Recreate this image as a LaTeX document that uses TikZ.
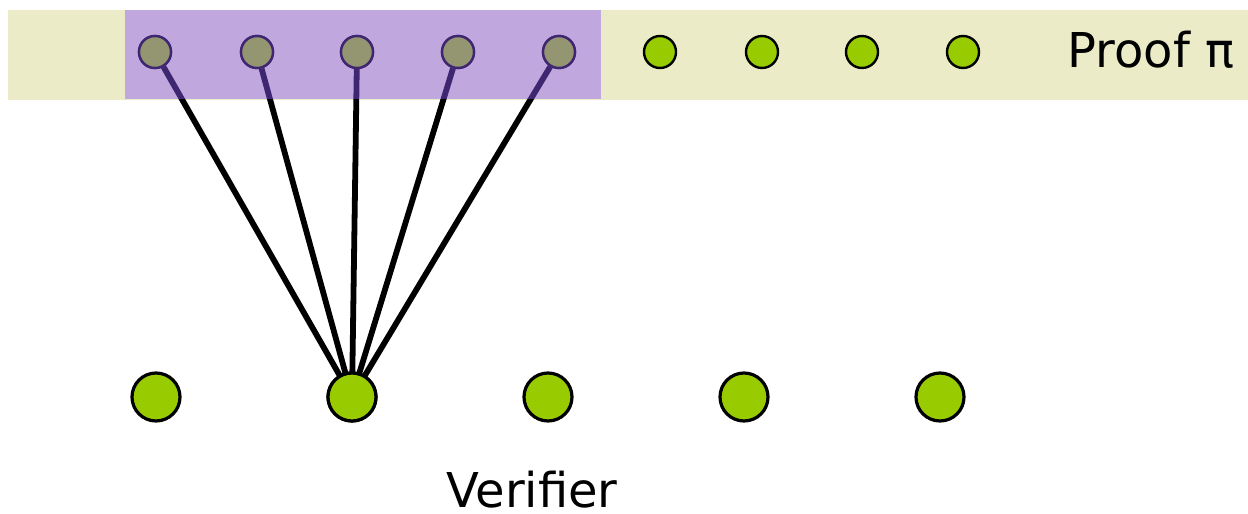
\documentclass[tikz,border=0pt]{standalone}
\usepackage{fontspec}
\setmainfont{DejaVu Sans}
\definecolor{beige}{RGB}{235,235,200}
\definecolor{leaf}{RGB}{153,204,0}
\definecolor{lilac}{RGB}{140,85,250}
\begin{document}
\begin{tikzpicture}[x=0.5pt,y=-0.5pt,
  small/.style={circle,draw=black,line width=1.2pt,fill=leaf,minimum size=32*0.5pt,inner sep=0pt},
  big/.style={circle,draw=black,line width=1.6pt,fill=leaf,minimum size=48*0.5pt,inner sep=0pt},
  wire/.style={line width=2.9pt,black},
  label/.style={font=\fontsize{24}{28}\selectfont,anchor=base,inner sep=0pt}]
\useasboundingbox (0,0) rectangle (1248,514);
\fill[beige] (8,10) rectangle (1248,100);
% top row
\foreach \i/\x in {1/155,2/257,3/357,4/458,5/559,6/660,7/762,8/862,9/963}
  \node[small] (t\i) at (\x,52) {};
% bottom row
\foreach \i/\x in {1/156,2/352,3/548,4/744,5/940}
  \node[big] (b\i) at (\x,397) {};
% connectors
\foreach \i in {1,...,5}
  \draw[wire] (t\i) -- (b2.center);
% redraw nodes on top of connectors
\foreach \i/\x in {1/155,2/257,3/357,4/458,5/559}
  \node[small] at (\x,52) {};
\node[big] at (352,397) {};
% translucent highlight
\fill[lilac,fill opacity=0.45] (125,10) rectangle (601,99);
\node[label] (proof) at (1151,67) {Proof π};
\node[label] (ver) at (532,507) {Verifier};
\end{tikzpicture}
\end{document}
